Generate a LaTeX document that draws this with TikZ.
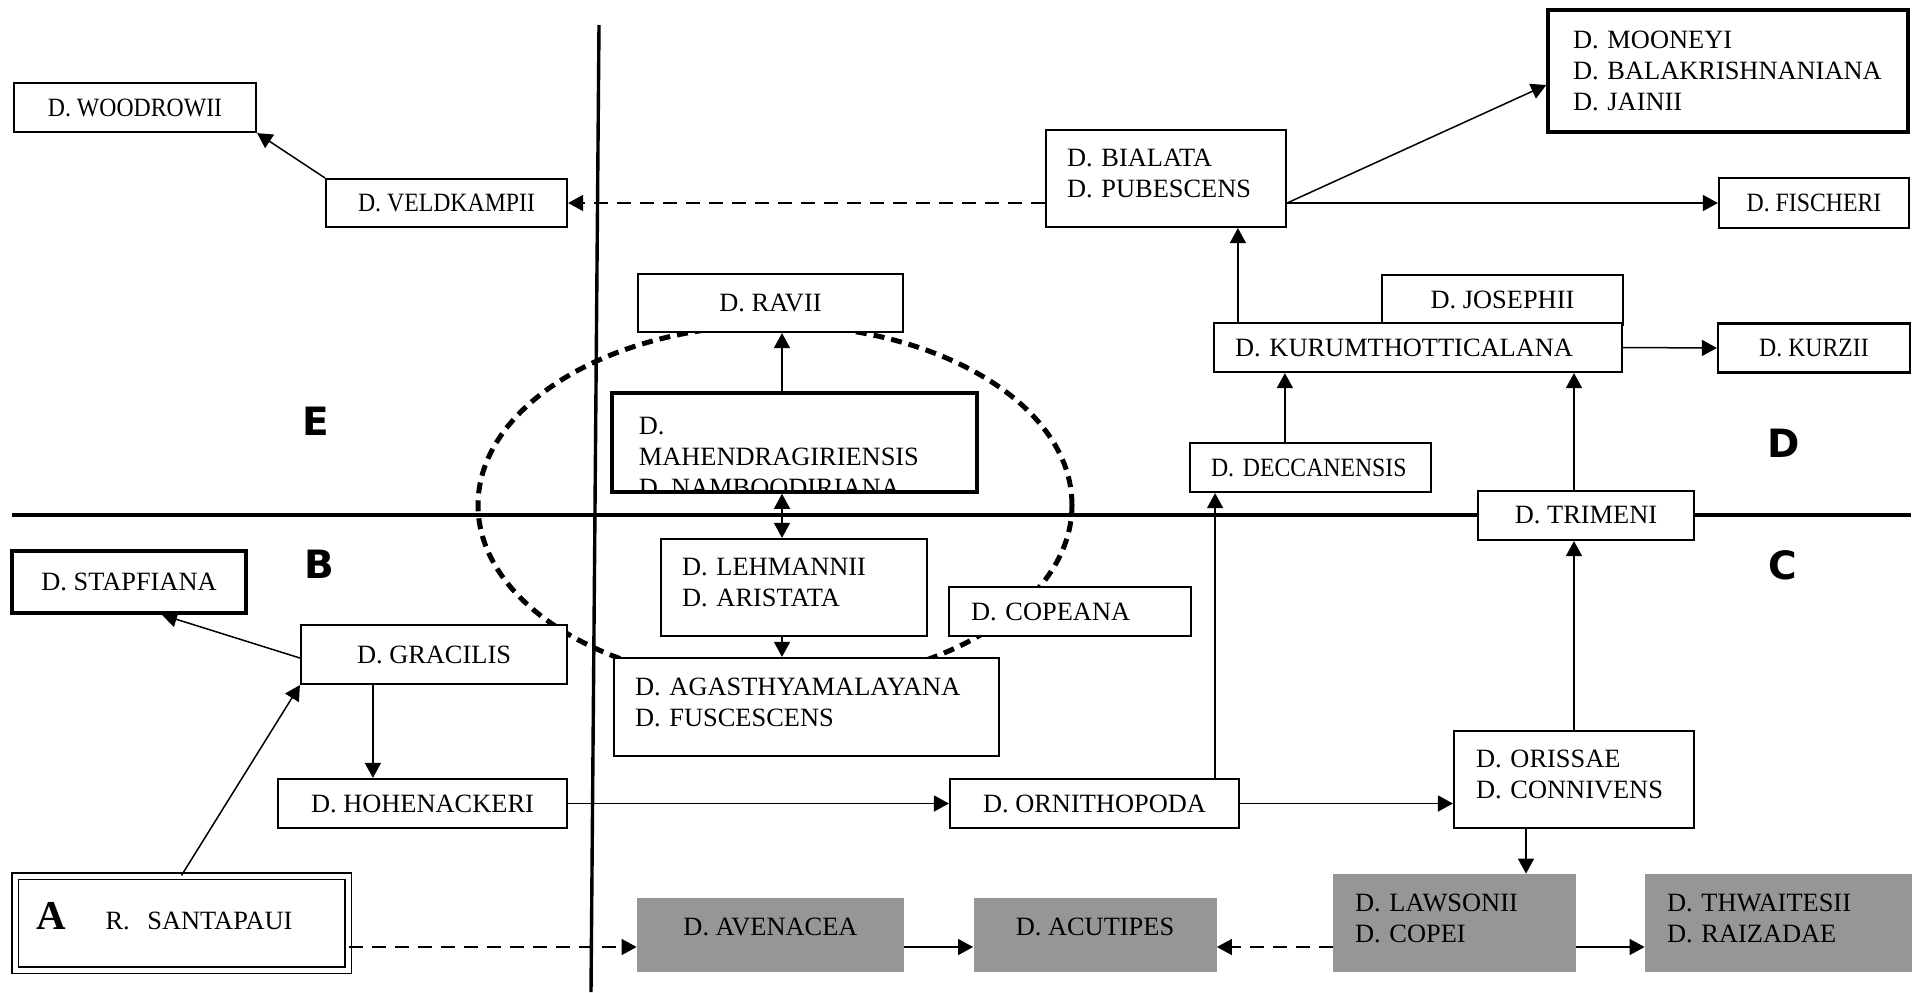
\documentclass[tikz,border=0pt]{standalone}
\usepackage{fontspec}
\setmainfont{Liberation Serif}
\newfontfamily\narrowserif[FakeStretch=0.9]{Liberation Serif}
\newfontfamily\regionsans{DejaVu Sans}
\usetikzlibrary{arrows.meta}
\setlength{\parindent}{0pt}
\definecolor{boxgrey}{RGB}{150,150,150}
\newcommand{\taxfont}{\fontsize{13.2}{15.5}\selectfont}
\newcommand{\narrowtaxfont}{\narrowserif\fontsize{13.2}{15.5}\selectfont}
\newcommand{\lowpad}[1]{\vrule width 0pt height 0pt depth #1\relax}

\begin{document}
\begin{tikzpicture}[x=0.5pt, y=-0.5pt, >={Triangle[length=7.5pt, width=8pt]},
  taxon node/.style={rectangle, draw, fill=white, line width=1.1pt, inner sep=0pt, font=\taxfont, align=center},
  narrow node/.style={taxon node, font=\narrowtaxfont},
  thick node/.style={taxon node, line width=1.8pt},
  left node/.style={taxon node, align=left, inner xsep=#1}, left node/.default=10.5pt,
  grey node/.style={rectangle, fill=boxgrey, inner sep=0pt, font=\taxfont},
  link/.style={->, line width=0.75pt},
  dashed link/.style={link, dash pattern=on 7pt off 4.5pt},
  axis/.style={line width=1.7pt},
  region/.style={font=\regionsans\bfseries\fontsize{19.5}{20}\selectfont}]

  \useasboundingbox (0,0) rectangle (1912,992);

  % Quadrant lines and the dashed ring
  \coordinate (vtop) at (599,25);
  \coordinate (vbottom) at (591,992);
  \coordinate (hleft) at (12,515);
  \coordinate (hright) at (1911,515);
  \coordinate (ringcentre) at (775,505);
  \draw[axis] (vtop) -- (vbottom);
  \draw[axis] (hleft) -- (hright);
  \draw[line width=2.5pt, dash pattern=on 5.5pt off 3.5pt] (ringcentre) ellipse (148.5pt and 90pt);

  % Region letters
  \node[region] (regionE) at (316,421) {E};
  \node[region] (regionB) at (319,564) {B};
  \node[region] (regionC) at (1783,565) {C};
  \node[region] (regionD) at (1784,443) {D};

  % Define nodes
  \node[narrow node, minimum width=121pt, minimum height=24.5pt] (woodrowii) at (135,107.5) {D. WOODROWII};
  \node[narrow node, minimum width=120.5pt, minimum height=24pt] (veldkampii) at (446.5,203) {D. VELDKAMPII};
  \node[left node, text width=99pt, minimum height=48.5pt] (bialata) at (1166,178.5) {D. BIALATA\\D. PUBESCENS\lowpad{5pt}};
  \node[left node=12.5pt, line width=1.8pt, text width=155pt, minimum height=61pt] (mooneyi) at (1728,71) {D. MOONEYI\\D. BALAKRISHNANIANA\\D. JAINII};
  \node[narrow node, minimum width=95pt, minimum height=25pt] (fischeri) at (1814,203) {D. FISCHERI};
  \node[taxon node, minimum width=132.5pt, minimum height=29pt] (ravii) at (770.5,303) {D. RAVII};
  \node[taxon node, minimum width=120.5pt, minimum height=25pt] (josephii) at (1502.5,300) {D. JOSEPHII};
  \node[left node, text width=183pt, minimum height=24.5pt] (kurum) at (1418,347.5) {D. KURUMTHOTTICALANA};
  \node[narrow node, minimum width=96pt, minimum height=24.5pt] (kurzii) at (1814,348) {D. KURZII};
  \node[thick node, minimum width=182.5pt, minimum height=49.5pt,
        path picture={\node[draw=none, fill=none, inner sep=0pt, minimum width=0pt, minimum height=0pt,
            anchor=north west, align=left, font=\taxfont]
          at ([xshift=12.5pt, yshift=-11.25pt]path picture bounding box.north west)
          {D.\\MAHENDRAGIRIENSIS\\D. NAMBOODIRIANA};}] (mahen) at (794.5,442.5) {};
  \node[left node, font=\narrowtaxfont, text width=99.5pt, minimum height=24.5pt] (deccanensis) at (1310.5,467.5) {D. DECCANENSIS};
  \node[taxon node, minimum width=108pt, minimum height=24.5pt] (trimeni) at (1586,515.5) {D. TRIMENI};
  \node[thick node, minimum width=117pt, minimum height=31pt] (stapfiana) at (129,582) {D. STAPFIANA};
  \node[left node, text width=112pt, minimum height=48.5pt] (lehmannii) at (794,587.5) {D. LEHMANNII\\D. ARISTATA\lowpad{5pt}};
  \node[left node=11pt, text width=99pt, minimum height=24.5pt] (copeana) at (1070,611.5) {D. COPEANA};
  \node[taxon node, minimum width=133pt, minimum height=29.5pt] (gracilis) at (434,654.5) {D. GRACILIS};
  \node[left node, text width=171.5pt, minimum height=49pt] (agasthya) at (806.5,707) {D. AGASTHYAMALAYANA\\D. FUSCESCENS\lowpad{5pt}};
  \node[left node=11pt, text width=98pt, minimum height=48.5pt] (orissae) at (1574,779.5) {D. ORISSAE\\D. CONNIVENS\lowpad{5pt}};
  \node[taxon node, minimum width=144.5pt, minimum height=24.5pt] (hohenackeri) at (422.5,803.5) {D. HOHENACKERI};
  \node[taxon node, minimum width=144.5pt, minimum height=24.5pt] (ornithopoda) at (1094.5,803.5) {D. ORNITHOPODA};
  \node[left node, line width=0.6pt, double, double distance=2.5pt, text width=145.5pt, minimum height=47pt] (santapaui) at (181.5,923)
    {{\bfseries\fontsize{20.5}{20.5}\selectfont A}\hspace{20pt}R.\ \ SANTAPAUI\lowpad{7pt}};
  \node[grey node, minimum width=133.5pt, minimum height=37pt] (avenacea) at (770.5,935) {D. AVENACEA\lowpad{8pt}};
  \node[grey node, minimum width=121.5pt, minimum height=37pt] (acutipes) at (1095,935) {D. ACUTIPES\lowpad{8pt}};
  \node[grey node, align=left, inner xsep=11pt, text width=99.5pt, minimum height=49pt] (lawsonii) at (1454.5,923) {D. LAWSONII\\D. COPEI\lowpad{5pt}};
  \node[grey node, align=left, inner xsep=11pt, text width=111.5pt, minimum height=49pt] (thwaitesii) at (1778.5,923) {D. THWAITESII\\D. RAIZADAE\lowpad{5pt}};
  \coordinate (lowrow) at ([yshift=-6pt]avenacea.west);

  % Define edges
  \draw[link] (veldkampii.north west) -- (woodrowii.south east);
  \draw[dashed link] (bialata.west |- veldkampii.east) -- (veldkampii.east);
  \draw[link] (bialata.east |- fischeri.west) -- ([yshift=-7pt]mooneyi.west);
  \draw[link] (bialata.east |- fischeri.west) -- (fischeri.west);
  \draw[link] ([xshift=12.5pt]kurum.north west) -- ([xshift=12.5pt]kurum.north west |- bialata.south);
  \draw[link] (kurum.east) -- (kurzii.west);
  \draw[link] ([xshift=48pt]deccanensis.north west) -- ([xshift=48pt]deccanensis.north west |- kurum.south);
  \draw[link] (orissae.north |- trimeni.north) -- (orissae.north |- kurum.south);
  \draw[link] (orissae.north) -- (orissae.north |- trimeni.south);
  \draw[link] ([xshift=-12.5pt]ornithopoda.north east) -- ([xshift=-12.5pt]ornithopoda.north east |- deccanensis.south);
  \draw[link] (ornithopoda.east) -- (ornithopoda.east -| orissae.west);
  \draw[link] (hohenackeri.east) -- (ornithopoda.west);
  \draw[link] ([xshift=36.5pt]gracilis.south west) -- ([xshift=36.5pt]gracilis.south west |- hohenackeri.north);
  \draw[link] ([yshift=-1.75pt]gracilis.west) -- ([xshift=16.5pt]stapfiana.south);
  \draw[link] (santapaui.north) -- (gracilis.south west);
  \draw[link] ([xshift=-6.25pt]mahen.north) -- ([xshift=-6.25pt]mahen.north |- ravii.south);
  \draw[link, <->] ([xshift=-6.25pt]mahen.south) -- ([xshift=-6.25pt]mahen.south |- lehmannii.north);
  \draw[link] ([xshift=-6pt]lehmannii.south) -- ([xshift=-6pt]lehmannii.south |- agasthya.north);
  \draw[link] ([xshift=-24pt]orissae.south) -- ([xshift=-24pt]orissae.south |- lawsonii.north);
  \draw[dashed link] (santapaui.east |- lowrow) -- (lowrow);
  \draw[link] (lowrow -| avenacea.east) -- (lowrow -| acutipes.west);
  \draw[dashed link] (lowrow -| lawsonii.west) -- (lowrow -| acutipes.east);
  \draw[link] (lowrow -| lawsonii.east) -- (lowrow -| thwaitesii.west);
\end{tikzpicture}
\end{document}
